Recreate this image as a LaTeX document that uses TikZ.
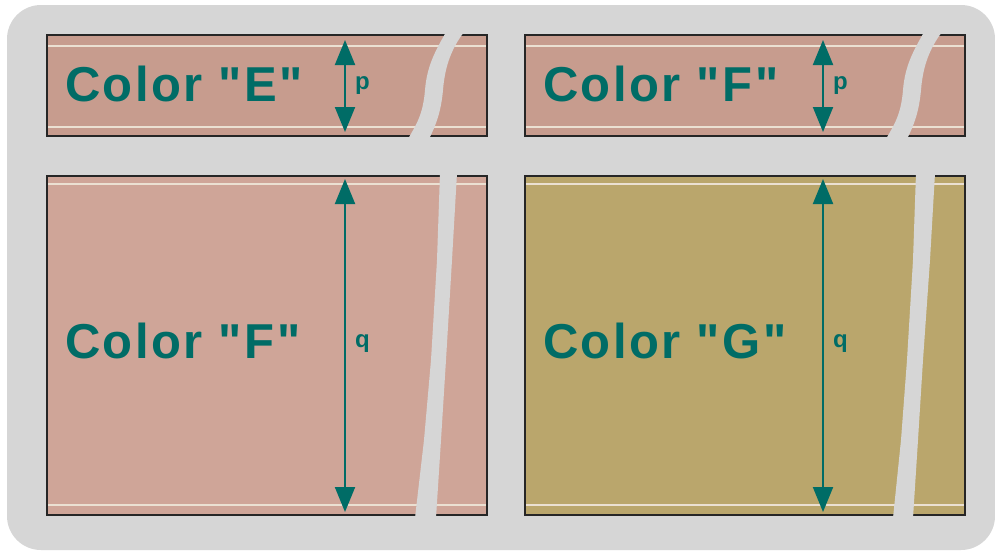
\documentclass[tikz,border=0pt]{standalone}
\usepackage{fontspec}
\setmainfont{Liberation Sans}
\newfontfamily\labfont[LetterSpace=5]{Liberation Sans}
\usetikzlibrary{arrows.meta}
\definecolor{bgray}{HTML}{D6D6D6}
\definecolor{rosetop}{HTML}{C79C8E}
\definecolor{rosebot}{HTML}{CFA598}
\definecolor{olive}{HTML}{BAA66C}
\definecolor{stripe}{HTML}{EBE0D2}
\definecolor{teal}{HTML}{006C66}
\tikzset{
  boxline/.style={draw=black!85, line width=2pt},
  stripeline/.style={draw=stripe, line width=2pt},
  tear/.style={fill=bgray},
  dimline/.style={draw=teal, line width=2pt, {Triangle[width=20pt,length=25pt]}-{Triangle[width=20pt,length=25pt]}},
  bigtext/.style={text=teal, inner sep=0pt, anchor=base west, font=\labfont\bfseries\fontsize{49}{49}\selectfont},
  smalltext/.style={text=teal, inner sep=0pt, anchor=base west, font=\bfseries\fontsize{24}{24}\selectfont}
}
\begin{document}
\begin{tikzpicture}[x=1pt,y=-1pt]
\useasboundingbox (0,0) rectangle (995,552);
\fill[white] (0,0) rectangle (995,552);
\fill[bgray, rounded corners=34pt] (7,5) rectangle (995,550);

% ---------- top-left box ----------
\fill[rosetop] (47,35) rectangle (487,136);
\draw[stripeline] (48,45.5) -- (486,45.5);
\draw[stripeline] (48,126.5) -- (486,126.5);
\draw[boxline] (47,35) rectangle (487,136);
\fill[tear] (446,32) .. controls (436,50) and (427,65) .. (425,90)
  .. controls (423,115) and (416,125) .. (408,139)
  -- (429,139) .. controls (436,125) and (441,112) .. (443,90)
  .. controls (445,65) and (452,48) .. (464,32) -- cycle;
\coordinate (p1a) at (345,40);
\coordinate (p1b) at (345,132);
\draw[dimline] (p1a) -- (p1b);
\node[bigtext] (tE) at (65,101) {Color "E"};
\node[smalltext] (p1) at (355,89) {p};

% ---------- top-right box ----------
\fill[rosetop] (525,35) rectangle (965,136);
\draw[stripeline] (526,45.5) -- (964,45.5);
\draw[stripeline] (526,126.5) -- (964,126.5);
\draw[boxline] (525,35) rectangle (965,136);
\fill[tear] (924,32) .. controls (914,50) and (905,65) .. (903,90)
  .. controls (901,115) and (894,125) .. (886,139)
  -- (907,139) .. controls (914,125) and (919,112) .. (921,90)
  .. controls (923,65) and (930,48) .. (942,32) -- cycle;
\coordinate (p2a) at (823,40);
\coordinate (p2b) at (823,132);
\draw[dimline] (p2a) -- (p2b);
\node[bigtext] (tF1) at (543,101) {Color "F"};
\node[smalltext] (p2) at (833,89) {p};

% ---------- bottom-left box ----------
\fill[rosebot] (47,176) rectangle (487,515);
\draw[stripeline] (48,184) -- (486,184);
\draw[stripeline] (48,505) -- (486,505);
\draw[boxline] (47,176) rectangle (487,515);
\fill[tear] (440,173) -- (437,260) -- (431,360) -- (424,440) -- (415,518)
  -- (436,518) -- (441,440) -- (446,360) -- (452,260) -- (457,173) -- cycle;
\coordinate (q1a) at (345,179);
\coordinate (q1b) at (345,512);
\draw[dimline] (q1a) -- (q1b);
\node[bigtext] (tF2) at (65,358) {Color "F"};
\node[smalltext] (q1) at (355,347) {q};

% ---------- bottom-right box ----------
\fill[olive] (525,176) rectangle (965,515);
\draw[stripeline] (526,184) -- (964,184);
\draw[stripeline] (526,505) -- (964,505);
\draw[boxline] (525,176) rectangle (965,515);
\fill[tear] (916,173) -- (913,260) -- (907,360) -- (901,440) -- (893,518)
  -- (913,518) -- (918,440) -- (923,360) -- (930,260) -- (935,173) -- cycle;
\coordinate (q2a) at (823,179);
\coordinate (q2b) at (823,512);
\draw[dimline] (q2a) -- (q2b);
\node[bigtext] (tG) at (543,358) {Color "G"};
\node[smalltext] (q2) at (833,347) {q};
\end{tikzpicture}
\end{document}
